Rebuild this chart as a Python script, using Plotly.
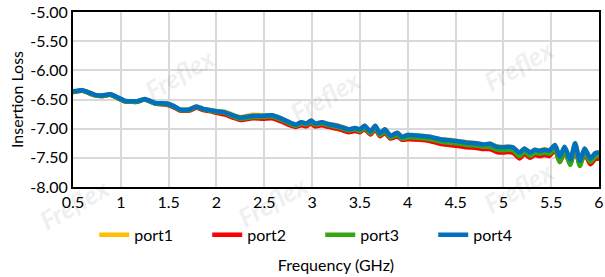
import plotly.graph_objects as go

freq = [0.5, 0.6, 0.65, 0.73, 0.8, 0.89, 0.95, 1.04, 1.12, 1.17, 1.25, 1.36, 1.48, 1.55, 1.62, 1.72,
        1.79, 1.86, 1.93, 2.0, 2.09, 2.17, 2.25, 2.38, 2.49, 2.58, 2.67, 2.75, 2.83, 2.89, 2.94, 2.99,
        3.03, 3.10, 3.17, 3.26, 3.32, 3.38, 3.45, 3.50, 3.55, 3.61, 3.66, 3.71, 3.76, 3.82, 3.89, 3.94,
        4.0, 4.13, 4.23, 4.34, 4.44, 4.55, 4.62, 4.72, 4.79, 4.86, 4.93, 5.0, 5.05, 5.10, 5.17, 5.22,
        5.28, 5.33, 5.38, 5.43, 5.48, 5.54, 5.59, 5.64, 5.70, 5.75, 5.80, 5.85, 5.91, 5.96, 6.0]

port4 = [-6.36, -6.34, -6.37, -6.42, -6.43, -6.41, -6.45, -6.52, -6.53, -6.53, -6.49, -6.56, -6.57, -6.61, -6.67, -6.67,
         -6.62, -6.66, -6.68, -6.70, -6.72, -6.77, -6.81, -6.78, -6.78, -6.77, -6.82, -6.88, -6.93, -6.89, -6.91, -6.86,
         -6.91, -6.89, -6.92, -6.95, -6.98, -7.01, -6.99, -7.01, -6.95, -7.05, -6.95, -7.08, -7.01, -7.12, -7.07, -7.14,
         -7.11, -7.12, -7.14, -7.18, -7.20, -7.22, -7.24, -7.25, -7.27, -7.26, -7.31, -7.32, -7.31, -7.32, -7.41, -7.34,
         -7.41, -7.36, -7.38, -7.36, -7.38, -7.28, -7.48, -7.31, -7.53, -7.25, -7.55, -7.34, -7.51, -7.42, -7.41]

port3 = [-6.37, -6.35, -6.38, -6.43, -6.44, -6.42, -6.46, -6.53, -6.54, -6.54, -6.50, -6.57, -6.58, -6.62, -6.68, -6.68,
         -6.63, -6.67, -6.69, -6.71, -6.73, -6.79, -6.83, -6.80, -6.80, -6.79, -6.84, -6.90, -6.95, -6.91, -6.93, -6.88,
         -6.93, -6.91, -6.94, -6.97, -7.00, -7.03, -7.01, -7.04, -6.98, -7.08, -6.98, -7.11, -7.04, -7.15, -7.10, -7.17,
         -7.15, -7.16, -7.18, -7.22, -7.24, -7.26, -7.28, -7.29, -7.31, -7.31, -7.36, -7.37, -7.36, -7.37, -7.47, -7.39,
         -7.47, -7.41, -7.43, -7.41, -7.43, -7.34, -7.57, -7.37, -7.62, -7.31, -7.64, -7.40, -7.57, -7.48, -7.47]

port2 = [-6.37, -6.35, -6.38, -6.43, -6.44, -6.42, -6.46, -6.53, -6.54, -6.54, -6.50, -6.57, -6.59, -6.63, -6.69, -6.69,
         -6.64, -6.68, -6.70, -6.73, -6.76, -6.81, -6.85, -6.82, -6.83, -6.82, -6.87, -6.93, -6.97, -6.94, -6.96, -6.91,
         -6.96, -6.94, -6.97, -7.00, -7.03, -7.06, -7.04, -7.06, -7.01, -7.10, -7.01, -7.13, -7.07, -7.17, -7.13, -7.19,
         -7.18, -7.19, -7.21, -7.26, -7.28, -7.30, -7.32, -7.33, -7.35, -7.35, -7.40, -7.41, -7.40, -7.41, -7.51, -7.43,
         -7.50, -7.45, -7.47, -7.45, -7.47, -7.37, -7.57, -7.40, -7.60, -7.34, -7.62, -7.43, -7.61, -7.52, -7.51]

port1 = [-6.36, -6.34, -6.37, -6.42, -6.43, -6.41, -6.45, -6.52, -6.53, -6.53, -6.49, -6.56, -6.57, -6.61, -6.67, -6.66,
         -6.62, -6.66, -6.68, -6.70, -6.71, -6.76, -6.80, -6.76, -6.77, -6.77, -6.82, -6.88, -6.93, -6.89, -6.91, -6.86,
         -6.91, -6.89, -6.92, -6.94, -6.97, -7.01, -6.99, -7.01, -6.95, -7.05, -6.95, -7.08, -7.01, -7.12, -7.07, -7.14,
         -7.11, -7.12, -7.14, -7.18, -7.19, -7.22, -7.23, -7.25, -7.27, -7.26, -7.30, -7.31, -7.31, -7.32, -7.41, -7.34,
         -7.41, -7.36, -7.38, -7.35, -7.37, -7.28, -7.48, -7.31, -7.53, -7.25, -7.55, -7.34, -7.51, -7.42, -7.41]

series_names = ["port1", "port2", "port3", "port4"]
series_values = [port1, port2, port3, port4]
series_colors = ["#FFC000", "#FF0000", "#33A812", "#0070C0"]

x_ticks = [0.5, 1, 1.5, 2, 2.5, 3, 3.5, 4, 4.5, 5, 5.5, 6]
x_tick_labels = ["0.5", "1", "1.5", "2", "2.5", "3", "3.5", "4", "4.5", "5", "5.5", "6"]
y_ticks = [-8.0, -7.5, -7.0, -6.5, -6.0, -5.5, -5.0]
y_tick_labels = ["-8.00", "-7.50", "-7.00", "-6.50", "-6.00", "-5.50", "-5.00"]

FONT = "Lato, 'Open Sans', sans-serif"

fig = go.Figure()
for name, vals, col in zip(series_names, series_values, series_colors):
    fig.add_trace(go.Scatter(
        x=freq, y=vals, name=name, mode="lines",
        line=dict(color=col, width=4.5, shape="spline", smoothing=0.6),
    ))

# faint watermarks
wm = [(0.12, 0.85), (0.48, 0.72), (0.93, 0.9), (0.38, -0.28), (0.93, -0.2), (-0.08, -0.3)]
for (ax, ay) in wm:
    fig.add_annotation(x=ax, y=ay, xref="paper", yref="paper", text="<b><i>Freflex</i></b>",
                       showarrow=False, textangle=-30, opacity=0.06,
                       font=dict(family=FONT, size=26, color="#000000"))

fig.update_layout(
    width=605, height=277,
    margin=dict(l=73, r=6, t=12, b=90, autoexpand=False),
    paper_bgcolor="white", plot_bgcolor="white",
    font=dict(family=FONT, size=16, color="#000000"),
    showlegend=True,
    legend=dict(orientation="h", x=0.47, xanchor="center", y=-0.274, yanchor="middle",
                font=dict(size=16), entrywidth=68, entrywidthmode="pixels",
                bgcolor="rgba(0,0,0,0)"),
)
fig.update_xaxes(
    range=[0.5, 6], tickvals=x_ticks, ticktext=x_tick_labels,
    showgrid=True, gridcolor="#D9D9D9", gridwidth=2,
    showline=True, linecolor="black", linewidth=2, mirror=True,
    ticks="", zeroline=False, automargin=False, ticklabeloverflow="allow",
    title=dict(text="Frequency (GHz)", font=dict(size=16), standoff=50),
)
fig.update_yaxes(
    range=[-8, -5], tickvals=y_ticks, ticktext=y_tick_labels,
    showgrid=True, gridcolor="#D9D9D9", gridwidth=2,
    showline=True, linecolor="black", linewidth=2, mirror=True,
    ticks="", zeroline=False, automargin=False, ticklabeloverflow="allow",
    title=dict(text="Insertion Loss", font=dict(size=16), standoff=3),
)

fig.write_html(
    "out.html",
    config={"displayModeBar": False},
    post_script="document.body.style.margin='0';document.body.style.overflow='hidden';",
)
